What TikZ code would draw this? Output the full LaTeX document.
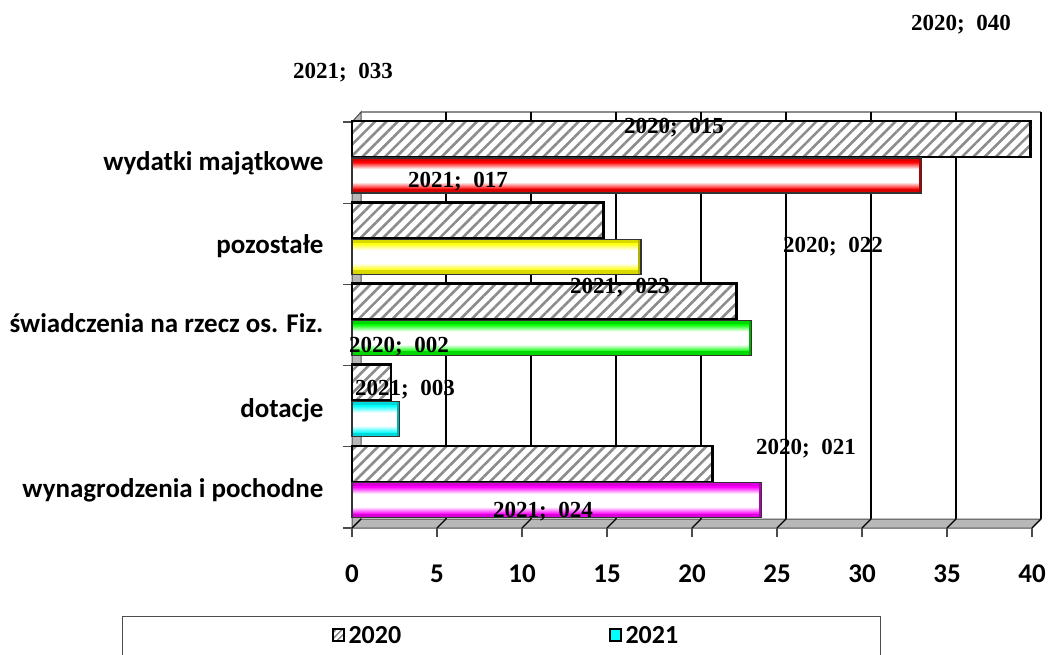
\documentclass[tikz,border=0pt]{standalone}
\usepackage{fontspec}
\setmainfont{Liberation Serif}
\newfontfamily\calibri{Carlito}
\usetikzlibrary{patterns.meta, positioning}
\definecolor{wallgray}{gray}{0.72}
\definecolor{hatchgray}{gray}{0.55}
\definecolor{barred}{rgb}{1,0,0}
\definecolor{baryellow}{rgb}{1,1,0}
\definecolor{bargreen}{rgb}{0,1,0}
\definecolor{barcyan}{rgb}{0,1,1}
\definecolor{barmagenta}{rgb}{1,0,1}

% one 2021 bar: colour, top, value
\newcommand{\tubebar}[3]{%
  \fill[white] (352,#2) rectangle ({352+17*#3},{#2+35});
  \fill[#1!85!black] (352,#2) rectangle ({352+17*#3},{#2+4});
  \shade[top color=#1, bottom color=white] (352,{#2+4}) rectangle ({352+17*#3},{#2+11});
  \shade[top color=white, bottom color=#1] (352,{#2+24}) rectangle ({352+17*#3},{#2+31});
  \fill[#1!85!black] (352,{#2+31}) rectangle ({352+17*#3},{#2+35});
  \fill[#1!70!black] ({352+17*#3-3},#2) rectangle ({352+17*#3},{#2+35});
  \draw[black!80, line width=1.2pt] (352,#2) rectangle ({352+17*#3},{#2+35});
}

\begin{document}
\begin{tikzpicture}[x=1pt, y=-1pt,
    catlabel/.style={anchor=east, font=\calibri\bfseries\fontsize{27}{29}\selectfont},
    ticklabel/.style={font=\calibri\bfseries\fontsize{27}{29}\selectfont},
    legendlabel/.style={anchor=west, font=\calibri\bfseries\fontsize{26}{28}\selectfont},
    datalabel/.style={font=\bfseries\fontsize{23}{25}\selectfont},
    gridline/.style={draw=black, line width=1.6pt},
    wall/.style={fill=wallgray, draw=black!70, line width=1pt},
    hatchbar/.style={preaction={fill=white}, pattern={Lines[angle=45, distance=8pt, line width=2.6pt]}, pattern color=hatchgray, draw=black, line width=2.6pt}
]
\useasboundingbox (0,0) rectangle (1048,655);

% back wall and grid
\draw[draw=black!45, line width=1.4pt] (361,112) -- (1041,112);
\foreach \v in {5,10,...,40}
  \draw[gridline] ({361+17*\v},112) -- ({361+17*\v},519);

% floor and left wall
\filldraw[wall] (352,528) -- (1032,528) -- (1041,519) -- (361,519) -- cycle;
\filldraw[wall] (352,122) -- (361,112) -- (361,519) -- (352,528) -- cycle;
\foreach \v in {0,5,...,40} {
  \draw[black, line width=1.2pt] ({352+17*\v},528) -- ({361+17*\v},519);
  \draw[black!70, line width=1.2pt] ({352+17*\v},528) -- ({352+17*\v},537);
}
\foreach \k in {0,...,5}
  \draw[black!70, line width=1.2pt] (343,{122+81.2*\k}) -- (352,{122+81.2*\k});

% 2020 bars
\foreach \top/\val in {121/39.9, 202.2/14.8, 283.4/22.6, 364.6/2.3, 445.8/21.2}
  \draw[hatchbar] (352,\top) rectangle ({352+17*\val},{\top+36});

% 2021 bars
\tubebar{barred}{158}{33.5}
\tubebar{baryellow}{239.2}{17.0}
\tubebar{bargreen}{320.4}{23.5}
\tubebar{barcyan}{401.6}{2.8}
\tubebar{barmagenta}{482.8}{24.1}

% category labels
\node[catlabel] (wydatki) at (327,163) {wydatki majątkowe};
\node[catlabel] (pozostale) at (327,246) {pozostałe};
\node[catlabel] (swiadczenia) at (327,323) {świadczenia na rzecz os. Fiz.};
\node[catlabel] (dotacje) at (327,410) {dotacje};
\node[catlabel] (wynagrodzenia) at (327,490) {wynagrodzenia i pochodne};

% axis values
\foreach \v in {0,5,...,40}
  \node[ticklabel] (tick\v) at ({352+17*\v},574) {\v};

% data labels
\node[datalabel] (lab2020a) at (961,25) {2020;\ \ 040};
\node[datalabel] (lab2021a) at (343,73) {2021;\ \ 033};
\node[datalabel] (lab2020b) at (674,128) {2020;\ \ 015};
\node[datalabel] (lab2021b) at (458,182) {2021;\ \ 017};
\node[datalabel] (lab2020c) at (833,247) {2020;\ \ 022};
\node[datalabel] (lab2021c) at (620,288) {2021;\ \ 023};
\node[datalabel] (lab2020d) at (399,347) {2020;\ \ 002};
\node[datalabel] (lab2021d) at (405,390) {2021;\ \ 003};
\node[datalabel] (lab2020e) at (806,449) {2020;\ \ 021};
\node[datalabel] (lab2021e) at (543,512) {2021;\ \ 024};

% legend
\draw[black!70, line width=1pt] (122,616) rectangle (880,670);
\filldraw[pattern={Lines[angle=45, distance=4pt, line width=1.5pt]}, pattern color=hatchgray, draw=black, line width=1.2pt] (333,629) rectangle (344,641);
\node[legendlabel] (leg2020) at (345,635) {2020};
\filldraw[fill=barcyan, draw=black, line width=1.2pt] (610,629) rectangle (621,641);
\node[legendlabel] (leg2021) at (622,635) {2021};
\end{tikzpicture}
\end{document}
